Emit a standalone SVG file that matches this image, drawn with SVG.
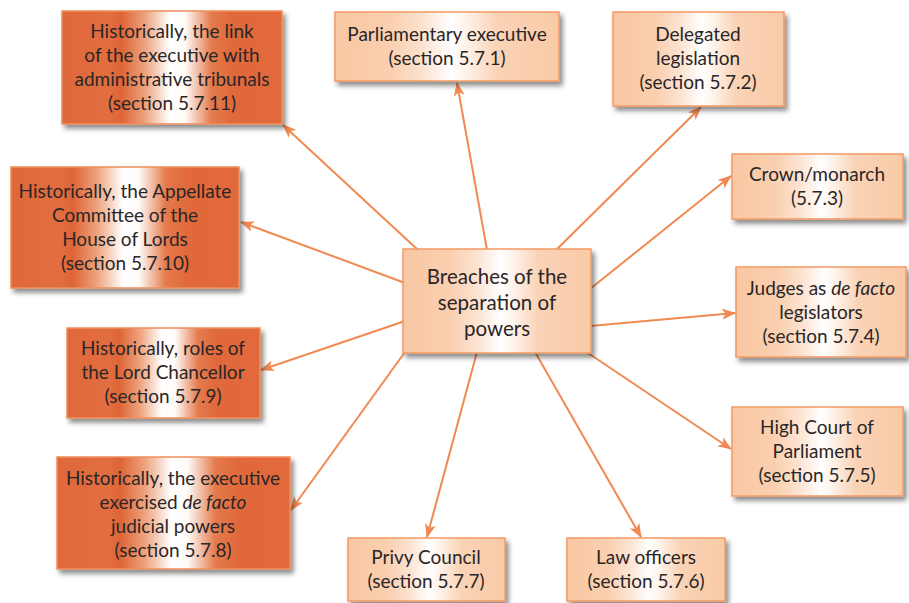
<svg xmlns="http://www.w3.org/2000/svg" width="909" height="603" viewBox="0 0 909 603">
  <defs>
    <linearGradient id="gDark" x1="0" y1="0" x2="1" y2="0">
      <stop offset="0" stop-color="#E0683A"/>
      <stop offset="0.22" stop-color="#E26E40"/>
      <stop offset="0.27" stop-color="#DE6436"/>
      <stop offset="0.38" stop-color="#EEA47F"/>
      <stop offset="0.49" stop-color="#FFFFFF"/>
      <stop offset="0.56" stop-color="#FFFBF8"/>
      <stop offset="0.68" stop-color="#E47A4C"/>
      <stop offset="0.78" stop-color="#E0683A"/>
      <stop offset="1" stop-color="#E1693B"/>
    </linearGradient>
    <linearGradient id="gLight" x1="0" y1="0" x2="1" y2="0">
      <stop offset="0" stop-color="#F9C7A3"/>
      <stop offset="0.25" stop-color="#FACFAF"/>
      <stop offset="0.4" stop-color="#FCE4D3"/>
      <stop offset="0.52" stop-color="#FFFFFF"/>
      <stop offset="0.58" stop-color="#FEF4EC"/>
      <stop offset="0.72" stop-color="#FAD3B6"/>
      <stop offset="1" stop-color="#F9CAA7"/>
    </linearGradient>
    <filter id="shadow" x="-10%" y="-10%" width="125%" height="130%">
      <feDropShadow dx="3" dy="4" stdDeviation="2.5" flood-color="#000" flood-opacity="0.45"/>
    </filter>
    <marker id="arrow" markerUnits="userSpaceOnUse" markerWidth="14" markerHeight="12" refX="13" refY="5.5" orient="auto">
      <path d="M0,0 L14,5.5 L0,11 L3.5,5.5 Z" fill="#F08A52"/>
    </marker>
  </defs>
  <style>
    .dark { fill: url(#gDark); stroke: #EE8E5C; stroke-width: 1.5; filter: url(#shadow); }
    .light { fill: url(#gLight); stroke: #F29A64; stroke-width: 1.5; filter: url(#shadow); }
    text { font-family: Lato, "Liberation Sans", sans-serif; font-size: 19px; fill: #2A2627; text-anchor: middle; }
    .big { font-size: 20.5px; }
    .conn line { stroke: #F08A52; stroke-width: 2; marker-end: url(#arrow); }
    .it { font-style: italic; }
  </style>

  <rect width="909" height="603" fill="#FFFFFF"/>

  <!-- connectors from the central box -->
  <g id="connectors" class="conn">
    <line x1="418" y1="250" x2="283" y2="125"/>
    <line x1="487" y1="250" x2="457" y2="83"/>
    <line x1="556" y1="250" x2="701" y2="107"/>
    <line x1="590" y1="289" x2="731" y2="176"/>
    <line x1="590" y1="326" x2="735" y2="313"/>
    <line x1="585" y1="351" x2="731" y2="449"/>
    <line x1="535" y1="352" x2="641" y2="537"/>
    <line x1="477" y1="352" x2="427" y2="537"/>
    <line x1="405" y1="352" x2="291" y2="510"/>
    <line x1="405" y1="321" x2="261" y2="370"/>
    <line x1="405" y1="283" x2="241" y2="222"/>
  </g>

  <g id="center">
    <rect class="light" x="403" y="249" width="188" height="104"/>
    <text class="big" x="497" y="284">Breaches of the</text>
    <text class="big" x="497" y="310">separation of</text>
    <text class="big" x="497" y="336">powers</text>
  </g>

  <g id="executive-tribunals">
    <rect class="dark" x="62" y="11" width="220" height="113"/>
    <text x="172" y="38">Historically, the link</text>
    <text x="172" y="62">of the executive with</text>
    <text x="172" y="86">administrative tribunals</text>
    <text x="172" y="110">(section 5.7.11)</text>
  </g>

  <g id="appellate-committee">
    <rect class="dark" x="11" y="167" width="228" height="121"/>
    <text x="125" y="198">Historically, the Appellate</text>
    <text x="125" y="222">Committee of the</text>
    <text x="125" y="246">House of Lords</text>
    <text x="125" y="270">(section 5.7.10)</text>
  </g>

  <g id="lord-chancellor">
    <rect class="dark" x="67" y="328" width="193" height="90"/>
    <text x="163" y="355">Historically, roles of</text>
    <text x="163" y="379">the Lord Chancellor</text>
    <text x="163" y="403">(section 5.7.9)</text>
  </g>

  <g id="executive-judicial">
    <rect class="dark" x="57" y="457" width="233" height="112"/>
    <text x="173" y="485">Historically, the executive</text>
    <text x="173" y="509">exercised <tspan class="it">de facto</tspan></text>
    <text x="173" y="533">judicial powers</text>
    <text x="173" y="557">(section 5.7.8)</text>
  </g>

  <g id="parliamentary-executive">
    <rect class="light" x="335" y="12" width="224" height="69"/>
    <text x="447" y="41">Parliamentary executive</text>
    <text x="447" y="65">(section 5.7.1)</text>
  </g>

  <g id="delegated-legislation">
    <rect class="light" x="613" y="12" width="171" height="94"/>
    <text x="698" y="41">Delegated</text>
    <text x="698" y="65">legislation</text>
    <text x="698" y="89">(section 5.7.2)</text>
  </g>

  <g id="crown-monarch">
    <rect class="light" x="732" y="154" width="171" height="65"/>
    <text x="817" y="181">Crown/monarch</text>
    <text x="817" y="205">(5.7.3)</text>
  </g>

  <g id="judges">
    <rect class="light" x="736" y="267" width="170" height="90"/>
    <text x="821" y="295">Judges as <tspan class="it">de facto</tspan></text>
    <text x="821" y="319">legislators</text>
    <text x="821" y="343">(section 5.7.4)</text>
  </g>

  <g id="high-court">
    <rect class="light" x="732" y="407" width="171" height="89"/>
    <text x="817" y="434">High Court of</text>
    <text x="817" y="458">Parliament</text>
    <text x="817" y="482">(section 5.7.5)</text>
  </g>

  <g id="law-officers">
    <rect class="light" x="567" y="538" width="158" height="63"/>
    <text x="646" y="564">Law officers</text>
    <text x="646" y="588">(section 5.7.6)</text>
  </g>

  <g id="privy-council">
    <rect class="light" x="348" y="538" width="157" height="63"/>
    <text x="426" y="564">Privy Council</text>
    <text x="426" y="588">(section 5.7.7)</text>
  </g>
</svg>
